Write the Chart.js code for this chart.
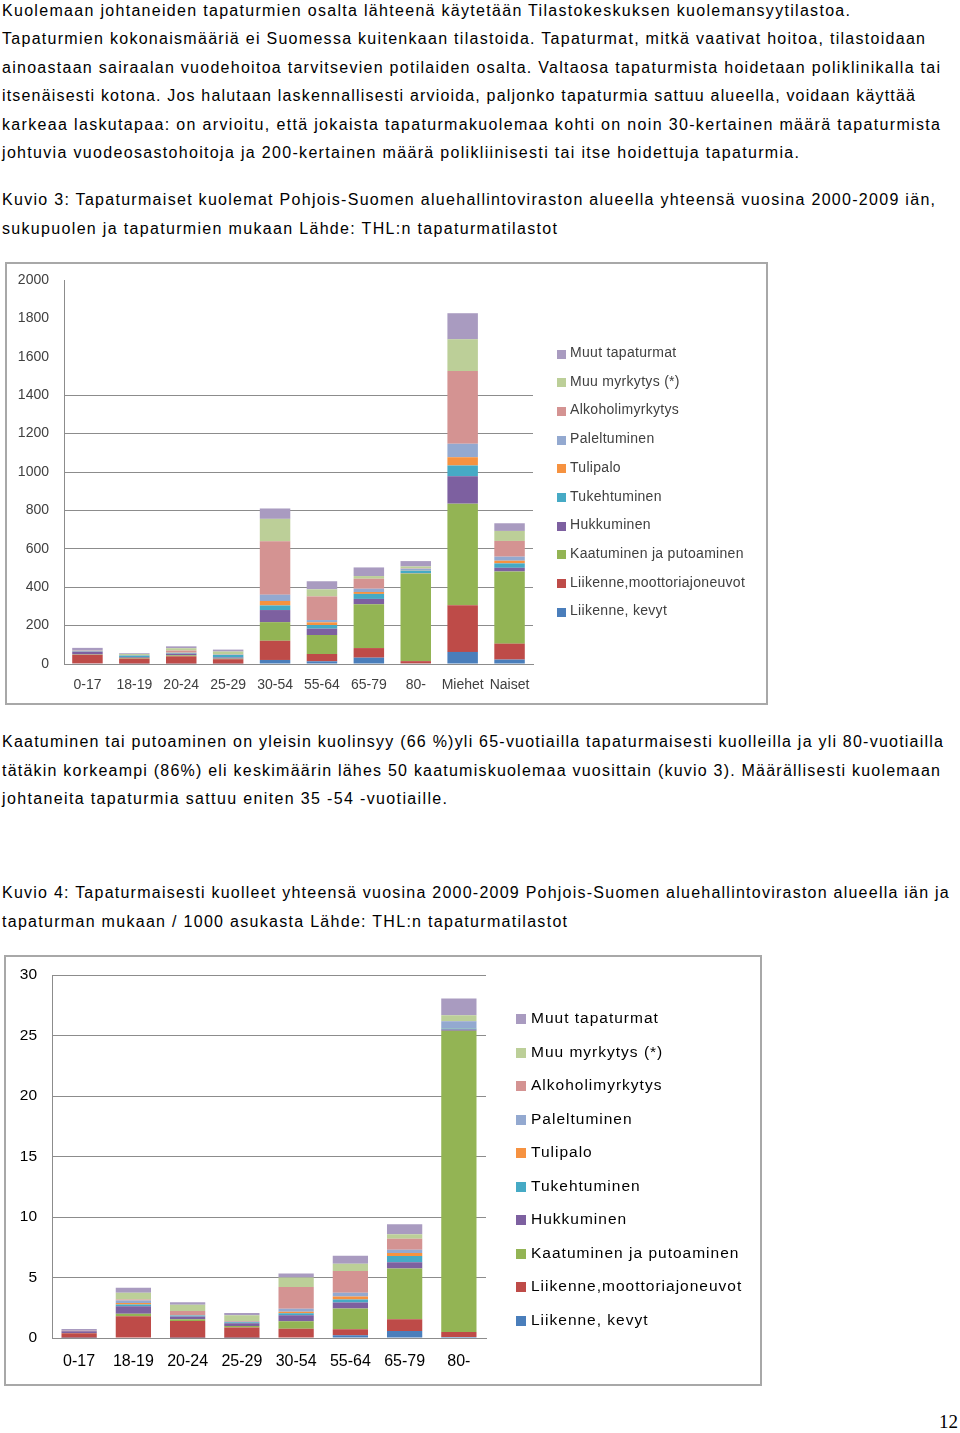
<!DOCTYPE html>
<html>
<head>
<meta charset="utf-8">
<script src="https://cdn.jsdelivr.net/npm/chart.js@4.4.1/dist/chart.umd.min.js"></script>
<style>
body { margin: 0; width: 960px; height: 1433px; position: relative; background: #fff; overflow: hidden;
       font-family: "Liberation Sans", Arial, sans-serif; color: #000; }
.ln { position: absolute; left: 2px; white-space: nowrap; font-size: 16px; line-height: 20px; }
.frame { position: absolute; border: 2px solid #a8a8a8; box-sizing: border-box; }
.frame canvas { position: absolute; left: 0; top: 0; }
.leg { position: absolute; white-space: nowrap; }
.leg i { position: absolute; left: 0; }
#pageno { position: absolute; right: 2px; top: 1411px; font-family: "Liberation Serif", serif; font-size: 19px; }
</style>
</head>
<body>

<div class="frame" id="frame1" style="left:5px; top:262px; width:763px; height:443px;"><canvas id="chart1"></canvas></div>
<div class="frame" id="frame2" style="left:4px; top:955px; width:758px; height:431px;"><canvas id="chart2"></canvas></div>
<div id="pageno">12</div>

<script>
// page text, one entry per printed line: [text, baseline y, right edge]
const textLines = [
    ["Kuolemaan johtaneiden tapaturmien osalta lähteenä käytetään Tilastokeskuksen kuolemansyytilastoa.", 16, 850],
    ["Tapaturmien kokonaismääriä ei Suomessa kuitenkaan tilastoida. Tapaturmat, mitkä vaativat hoitoa, tilastoidaan", 44.5, 925],
    ["ainoastaan sairaalan vuodehoitoa tarvitsevien potilaiden osalta. Valtaosa tapaturmista hoidetaan poliklinikalla tai", 73, 940],
    ["itsenäisesti kotona. Jos halutaan laskennallisesti arvioida, paljonko tapaturmia sattuu alueella, voidaan käyttää", 101.5, 915],
    ["karkeaa laskutapaa: on arvioitu, että jokaista tapaturmakuolemaa kohti on noin 30-kertainen määrä tapaturmista", 130, 940],
    ["johtuvia vuodeosastohoitoja ja 200-kertainen määrä polikliinisesti tai itse hoidettuja tapaturmia.", 158.5, 799],
    ["Kuvio 3: Tapaturmaiset kuolemat Pohjois-Suomen aluehallintoviraston alueella yhteensä vuosina 2000-2009 iän,", 205.5, 935],
    ["sukupuolen ja tapaturmien mukaan Lähde: THL:n tapaturmatilastot", 234, 557],
    ["Kaatuminen tai putoaminen on yleisin kuolinsyy (66 %)yli 65-vuotiailla tapaturmaisesti kuolleilla ja yli 80-vuotiailla", 747.5, 943],
    ["tätäkin korkeampi (86%) eli keskimäärin lähes 50 kaatumiskuolemaa vuosittain (kuvio 3). Määrällisesti kuolemaan", 776, 940],
    ["johtaneita tapaturmia sattuu eniten 35 -54 -vuotiaille.", 804.5, 447],
    ["Kuvio 4: Tapaturmaisesti  kuolleet yhteensä vuosina 2000-2009 Pohjois-Suomen aluehallintoviraston alueella iän ja", 898.5, 950],
    ["tapaturman mukaan / 1000 asukasta Lähde: THL:n tapaturmatilastot", 927, 567]
];

const seriesLabels = ["Liikenne, kevyt", "Liikenne,moottoriajoneuvot", "Kaatuminen ja putoaminen", "Hukkuminen",
    "Tukehtuminen", "Tulipalo", "Paleltuminen", "Alkoholimyrkytys", "Muu myrkytys (*)", "Muut tapaturmat"];
const seriesColors = ["#4a7ebb", "#be4b48", "#93b454", "#7d60a0", "#46aac5", "#f69240", "#93a9d0", "#d49392", "#bccf98", "#a99bc0"];

// Kuvio 3: number of deaths 2000-2009
const categories1 = ["0-17", "18-19", "20-24", "25-29", "30-54", "55-64", "65-79", "80-", "Miehet", "Naiset"];
const kevyt1       = [3, 2, 2, 2, 21, 14, 33, 3, 63, 23];
const moottori1    = [45, 26, 38, 23, 100, 38, 50, 12, 243, 83];
const kaatuminen1  = [2, 4, 5, 3, 97, 99, 228, 457, 529, 376];
const hukkuminen1  = [14, 4, 8, 6, 63, 33, 28, 2, 143, 19];
const tukehtuminen1 = [2, 8, 3, 14, 24, 19, 26, 12, 56, 23];
const tulipalo1    = [1, 1, 2, 1, 23, 14, 10, 1, 43, 14];
const paleltuminen1 = [1, 1, 2, 1, 33, 12, 17, 9, 70, 21];
const alkoholi1    = [1, 1, 10, 1, 278, 123, 52, 2, 379, 82];
const muuMyrkytys1 = [1, 5, 12, 14, 117, 37, 14, 10, 165, 52];
const muut1        = [14, 4, 10, 10, 54, 42, 45, 28, 136, 40];
const yTicks1 = { min: 0, max: 2000, step: 200 };

// Kuvio 4: deaths / 1000 inhabitants
const categories2 = ["0-17", "18-19", "20-24", "25-29", "30-54", "55-64", "65-79", "80-"];
const kevyt2       = [0.03, 0.05, 0.03, 0.03, 0.05, 0.22, 0.58, 0.08];
const moottori2    = [0.36, 1.74, 1.38, 0.83, 0.72, 0.5, 0.97, 0.41];
const kaatuminen2  = [0.02, 0.22, 0.14, 0.14, 0.61, 1.71, 4.2, 24.9];
const hukkuminen2  = [0.14, 0.61, 0.22, 0.22, 0.5, 0.5, 0.52, 0.1];
const tukehtuminen2 = [0.01, 0.14, 0.08, 0.08, 0.17, 0.25, 0.5, 0.09];
const tulipalo2    = [0.01, 0.14, 0.03, 0.02, 0.11, 0.25, 0.25, 0.02];
const paleltuminen2 = [0.01, 0.19, 0.03, 0.03, 0.25, 0.3, 0.28, 0.58];
const alkoholi2    = [0.01, 0.1, 0.33, 0.05, 1.8, 1.8, 0.91, 0.02];
const muuMyrkytys2 = [0.01, 0.55, 0.5, 0.47, 0.8, 0.61, 0.36, 0.47];
const muut2        = [0.14, 0.41, 0.22, 0.19, 0.33, 0.66, 0.83, 1.38];
const yTicks2 = { min: 0, max: 30, step: 5 };

const series1 = [kevyt1, moottori1, kaatuminen1, hukkuminen1, tukehtuminen1, tulipalo1, paleltuminen1, alkoholi1, muuMyrkytys1, muut1];
const series2 = [kevyt2, moottori2, kaatuminen2, hukkuminen2, tukehtuminen2, tulipalo2, paleltuminen2, alkoholi2, muuMyrkytys2, muut2];

// text lines, stretched to the printed width
textLines.forEach(([txt, base, right]) => {
    const div = document.createElement("div");
    div.className = "ln";
    div.textContent = txt;
    div.style.top = (base - 15.5) + "px";
    document.body.appendChild(div);
    const w = div.getBoundingClientRect().width;
    const sp = (right - 2 - w) / (txt.length - 1);
    div.style.letterSpacing = sp.toFixed(3) + "px";
});

function makeDatasets(series) {
    return series.map((vals, i) => ({
        label: seriesLabels[i],
        data: vals,
        backgroundColor: seriesColors[i],
        borderWidth: 0,
        barPercentage: 0.65,
        categoryPercentage: 1
    }));
}

function buildChart(id, labels, series, cfg) {
    const canvas = document.getElementById(id);
    const frame = canvas.parentElement;
    const W = frame.clientWidth, H = frame.clientHeight;
    canvas.width = W; canvas.height = H;
    canvas.style.width = W + "px"; canvas.style.height = H + "px";

    const chart = new Chart(canvas, {
        type: "bar",
        data: { labels: labels, datasets: makeDatasets(series) },
        options: {
            responsive: false,
            animation: false,
            devicePixelRatio: 1,
            layout: { padding: { left: 0, top: cfg.top, right: W - cfg.right, bottom: 0 } },
            plugins: { legend: { display: false }, tooltip: { enabled: false } },
            scales: {
                x: {
                    stacked: true,
                    grid: { display: false, drawTicks: false },
                    border: { color: "#8c8c8c", width: 1 },
                    ticks: { color: cfg.color, font: { family: cfg.font, size: cfg.xSize }, padding: cfg.xPad, maxRotation: 0, autoSkip: false },
                    afterFit: s => { s.height = H - cfg.bottom; s.paddingLeft = 0; s.paddingRight = 0; }
                },
                y: {
                    stacked: true,
                    min: cfg.ticks.min, max: cfg.ticks.max,
                    grid: {
                        drawTicks: false,
                        color: c => (cfg.gridMax !== undefined && c.tick.value > cfg.gridMax) ? "rgba(0,0,0,0)" : "#8c8c8c"
                    },
                    border: { color: "#8c8c8c", width: 1 },
                    ticks: {
                        stepSize: cfg.ticks.step, color: cfg.color, font: { family: cfg.font, size: cfg.ySize }, padding: cfg.yPad,
                        callback: v => String(v)
                    },
                    afterFit: s => { s.width = cfg.left; s.paddingTop = 0; s.paddingBottom = 0; }
                }
            }
        }
    });

    // legend, top item = last dataset
    chart.data.datasets.slice().reverse().forEach((ds, i) => {
        const item = document.createElement("div");
        item.className = "leg";
        const cy = cfg.legTop + i * cfg.legStep;
        item.style.left = cfg.legX + "px";
        item.style.top = (cy - 10) + "px";
        item.style.height = "20px";
        item.style.lineHeight = "20px";
        item.style.paddingLeft = cfg.legTextX + "px";
        item.style.font = cfg.legSize + "px " + cfg.legFont;
        item.style.color = cfg.legColor;
        item.style.letterSpacing = cfg.legSpacing + "px";
        const sw = document.createElement("i");
        sw.style.width = cfg.sw + "px";
        sw.style.height = cfg.sw + "px";
        sw.style.top = (10 - cfg.sw / 2) + "px";
        sw.style.background = ds.backgroundColor;
        item.appendChild(sw);
        item.appendChild(document.createTextNode(ds.label));
        document.body.appendChild(item);
    });
    return chart;
}

// frame 1 at (5,262); coordinates below are inside the canvas
buildChart("chart1", categories1, series1, {
    left: 57, right: 526, top: 16, bottom: 400,
    ticks: yTicks1, gridMax: 1400,
    font: '"Liberation Sans", Arial, sans-serif', xSize: 14, ySize: 14, color: "#404040",
    xPad: 13, yPad: 15,
    legX: 557, legTop: 354, legStep: 28.7, legTextX: 13, sw: 9,
    legSize: 14, legFont: '"Liberation Sans", Arial, sans-serif', legColor: "#404040", legSpacing: 0.3
});

// frame 2 at (4,955)
buildChart("chart2", categories2, series2, {
    left: 46, right: 480, top: 18, bottom: 381,
    ticks: yTicks2,
    font: '"Liberation Sans", Arial, sans-serif', xSize: 16, ySize: 15.5, color: "#000",
    xPad: 14, yPad: 15,
    legX: 516, legTop: 1019, legStep: 33.5, legTextX: 15, sw: 10,
    legSize: 15.5, legFont: '"Liberation Sans", Arial, sans-serif', legColor: "#000", legSpacing: 1.0
});
</script>
</body>
</html>
